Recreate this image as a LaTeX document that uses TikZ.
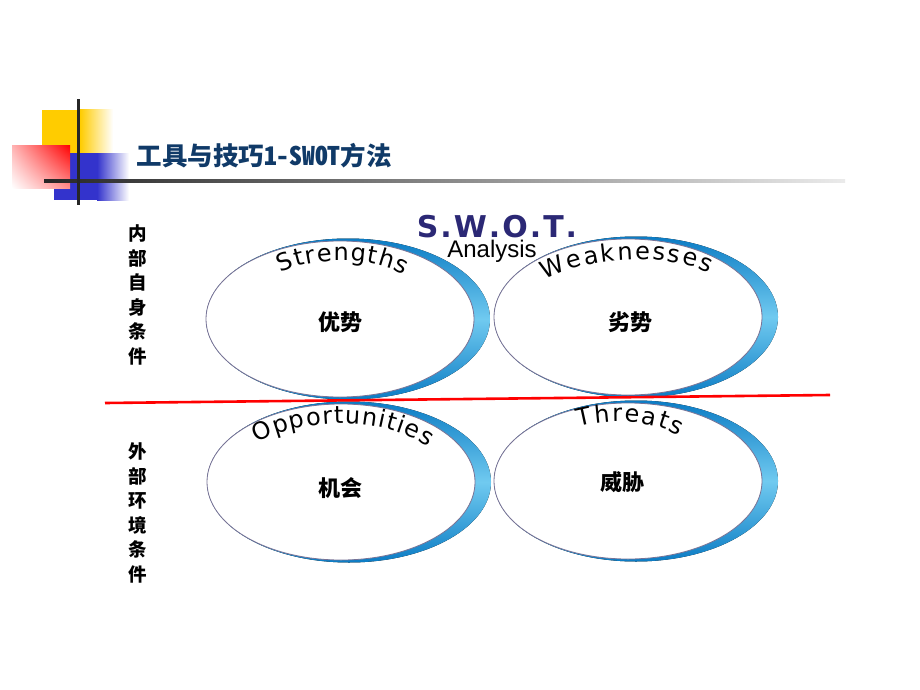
\documentclass[tikz,border=0pt]{standalone}
\usepackage{fontspec}
\usepackage{tikz}
\usetikzlibrary{decorations.text}
\usetikzlibrary{shadings}

\newfontfamily\cjk{Noto Sans CJK SC}
\newfontfamily\arialfont{Liberation Sans}
\newfontfamily\swotfont{DejaVu Sans}
\newcommand\arcfont{\swotfont\fontsize{24}{24}\selectfont}

\definecolor{titlenavy}{RGB}{16,58,104}
\definecolor{swotnavy}{RGB}{43,40,117}
\definecolor{crescentdark}{RGB}{12,124,196}
\definecolor{crescentlight}{RGB}{112,202,240}
\definecolor{ovalgray}{RGB}{120,115,150}
\definecolor{decoyellow}{RGB}{255,204,0}
\definecolor{decoblue}{RGB}{51,51,204}

\begin{document}
\begin{tikzpicture}[x=1pt, y=-1pt,
    crescent/.style = {top color=crescentdark, bottom color=crescentdark, middle color=crescentlight},
    oval/.style = {draw=ovalgray, fill=white, line width=0.8pt},
    cjklabel/.style = {font=\cjk\bfseries\fontsize{22}{22}\selectfont},
    sidelabel/.style = {align=center, font=\cjk\bfseries\fontsize{18.5}{24.6}\selectfont},
    arcword/.style = {decorate, decoration={text along path, text align={fit to path},
        text={|\arcfont|#1}}}]

    \useasboundingbox (0,0) rectangle (920,690);

    % corner decoration
    \fill [decoyellow] (42,110) rectangle (80,172);
    \shade [left color=decoyellow, right color=white] (80,110) rectangle (113,172);
    \fill [decoblue] (54,153) rectangle (97,200);
    \shade [left color=decoblue, right color=white] (97,153) rectangle (129,200);
    \shade [upper left=red!30, upper right=red, lower left=white, lower right=red!45] (12,145) rectangle (70,188);
    \shade [left color=black!85, right color=black!8] (44,179.6) rectangle (845,182.6);
    \fill [black!85] (76.5,99) rectangle (79.5,205);

    \node [anchor=west, text=titlenavy, font=\cjk\bfseries\fontsize{25.5}{25.5}\selectfont] (title) at (133,156)
        {工具与技巧{\addfontfeatures{CharacterWidth=Half}1-SWOT}方法};

    % the four ovals
    \foreach \cx/\cy in {340/319, 628/317, 341/482, 628/481} {
        \fill [crescent] (\cx+8,\cy) ellipse [x radius=142, y radius=80.5];
        \draw [oval] (\cx,\cy) ellipse [x radius=134, y radius=78];
    }

    \node [anchor=base, text=swotnavy, font=\swotfont\bfseries\fontsize{30}{30}\selectfont] (swot) at (497,237)
        {S\kern2pt.\kern2pt W\kern2pt.\kern2pt O\kern2pt.\kern2pt T\kern2pt.};
    \node [anchor=base, font=\arialfont\fontsize{24}{24}\selectfont] (analysis) at (492,257) {Analysis};

    \path [arcword=Strengths] (281,273) .. controls (312,257) and (370,255) .. (404,275);
    \path [arcword=Weaknesses] (545,280) .. controls (588,257) and (665,252) .. (709,273);
    \path [arcword=Opportunities] (257,443) .. controls (302,418) and (380,414) .. (428,447);
    \path [arcword=Threats] (579,427) .. controls (607,419) and (650,419) .. (679,436);

    \node [cjklabel] (youshi) at (340,322) {优势};
    \node [cjklabel] (lieshi) at (630,322) {劣势};
    \node [cjklabel] (jihui) at (340,488) {机会};
    \node [cjklabel] (weixie) at (622,482) {威胁};

    \node [sidelabel] (neibu) at (138,295) {内\\部\\自\\身\\条\\件};
    \node [sidelabel] (waibu) at (138,513) {外\\部\\环\\境\\条\\件};

    \draw [red, line width=2.6pt] (105,403) -- (830,395);

\end{tikzpicture}
\end{document}
